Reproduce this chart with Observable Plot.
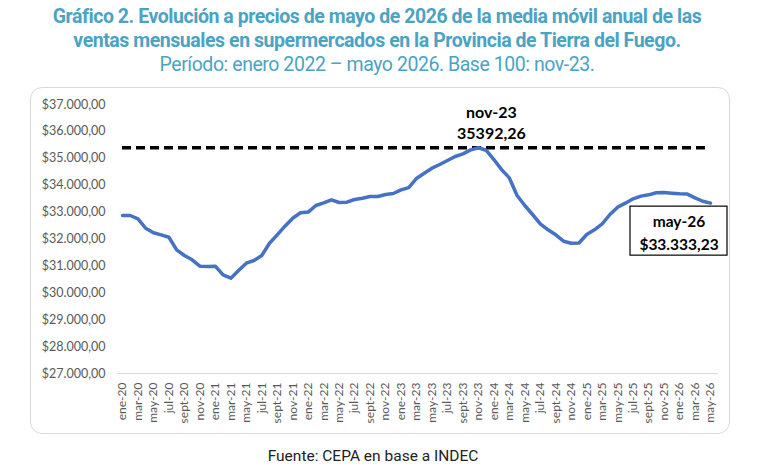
<!DOCTYPE html>
<html><head><meta charset="utf-8">
<script src="https://cdn.jsdelivr.net/npm/d3@7"></script>
<script src="https://cdn.jsdelivr.net/npm/@observablehq/plot@0.6"></script>
<style>
body{margin:0;width:774px;height:470px;background:#fff;position:relative;overflow:hidden;font-family:Roboto,sans-serif}
#title{position:absolute;left:0;top:5px;width:754px;text-align:center;color:#4BA3C3}
#title div{white-space:nowrap}
.t1{font-weight:700;font-size:19.5px;line-height:24px;letter-spacing:-0.45px}
.t2{font-weight:400;font-size:19.5px;line-height:24px;letter-spacing:-0.45px}
#box{position:absolute;left:30px;top:87px;width:698px;height:345px;border:1px solid #d9d9d9;border-radius:12px}
#chart{position:absolute;left:0;top:80px}
#foot{position:absolute;left:0;top:446px;width:746px;text-align:center;font-size:15.5px;line-height:20px;color:#222}
</style></head>
<body>
<div id="title">
<div class="t1">Gráfico 2. Evolución a precios de mayo de 2026 de la media móvil anual de las</div>
<div class="t1">ventas mensuales en supermercados en la Provincia de Tierra del Fuego.</div>
<div class="t2">Período: enero 2022 – mayo 2026. Base 100: nov-23.</div>
</div>
<div id="box"></div>
<div id="chart"></div>
<div id="foot">Fuente: CEPA en base a INDEC</div>
<script>
const monthNames = ["ene","feb","mar","abr","may","jun","jul","ago","sept","oct","nov","dic"];
const years = ["20","21","22","23","24","25","26"];
const lastMonthCount = 77;
const periods = years.flatMap(y => monthNames.map(m => `${m}-${y}`)).slice(0, lastMonthCount);

const values = [
  32874, 32874, 32750, 32400, 32230, 32155, 32065, 31597, 31387, 31227, 30989, 30975,
  30989, 30665, 30543, 30829, 31100, 31200, 31387, 31844, 32155, 32476, 32773, 32974,
  33000, 33245, 33345, 33456, 33357, 33370, 33468, 33517, 33580, 33580, 33654, 33691,
  33826, 33910, 34250, 34446, 34632, 34769, 34918, 35067, 35166, 35315, 35392.26, 35300,
  34955, 34580, 34272, 33617, 33245, 32911, 32565, 32342, 32155, 31918, 31844, 31850,
  32167, 32342, 32565, 32911, 33183, 33332, 33494, 33593, 33642, 33717, 33730, 33705,
  33680, 33670, 33530, 33404, 33333.23
];

const yTicks = [27000,28000,29000,30000,31000,32000,33000,34000,35000,36000,37000];
const peakLabel = "nov-23";
const peakValue = 35392.26;
const lastLabel = "may-26";
const lastValue = 33333.23;

const data = periods.map((p, i) => ({period: p, value: values[i]}));
const loc = d3.formatLocale({decimal: ",", thousands: ".", grouping: [3], currency: ["$", ""]});
const money = loc.format("$,.2f");
const plain = loc.format(".2f");

const chart = Plot.plot({
  width: 774,
  height: 370,
  marginLeft: 122,
  marginRight: 64,
  marginTop: 24,
  marginBottom: 77,
  style: {fontFamily: "Lato, sans-serif", background: "transparent"},
  x: {type: "point", domain: periods, padding: 0, label: null},
  y: {domain: [27000, 37000], label: null},
  marks: [
    Plot.ruleY([27000], {stroke: "#d9d9d9", strokeWidth: 1, insetLeft: -5, insetRight: -8}),
    Plot.axisY({ticks: yTicks, tickSize: 0, tickPadding: 17, tickFormat: money, fontSize: 12.5, fill: "#595959", label: null}),
    Plot.axisX({ticks: periods.filter((d, i) => i % 2 === 0), tickSize: 0, tickPadding: 9, tickRotate: -90, fontSize: 12, fill: "#595959", label: null}),
    Plot.ruleY([peakValue], {stroke: "#000", strokeWidth: 3.5, strokeDasharray: "9,5"}),
    Plot.line(data, {x: "period", y: "value", stroke: "#4472C4", strokeWidth: 3.5, curve: "linear"}),
    Plot.text([{p: peakLabel, v: peakValue}], {x: "p", y: "v", text: d => d.p, dx: 13, dy: -35, fontWeight: 700, fontSize: 16, fill: "#000"}),
    Plot.text([{p: peakLabel, v: peakValue}], {x: "p", y: "v", text: d => plain(d.v), dx: 13, dy: -14, fontWeight: 700, fontSize: 16, fill: "#000"}),
    (index, scales) => {
      const cx = scales.x(lastLabel) - 31.5;
      const cy = scales.y(lastValue);
      const g = d3.create("svg:g");
      g.append("rect").attr("x", cx - 48.5).attr("y", cy + 3.5).attr("width", 97).attr("height", 49)
        .attr("fill", "#fff").attr("stroke", "#000").attr("stroke-width", 1.2);
      return g.node();
    },
    Plot.text([{p: lastLabel, v: lastValue}], {x: "p", y: "v", text: d => d.p, dx: -31.5, dy: 18.5, fontWeight: 700, fontSize: 15.5, fill: "#000"}),
    Plot.text([{p: lastLabel, v: lastValue}], {x: "p", y: "v", text: d => money(d.v), dx: -31.5, dy: 41.5, fontWeight: 700, fontSize: 15.5, fill: "#000"})
  ]
});
document.getElementById("chart").appendChild(chart);
</script>
</body></html>
